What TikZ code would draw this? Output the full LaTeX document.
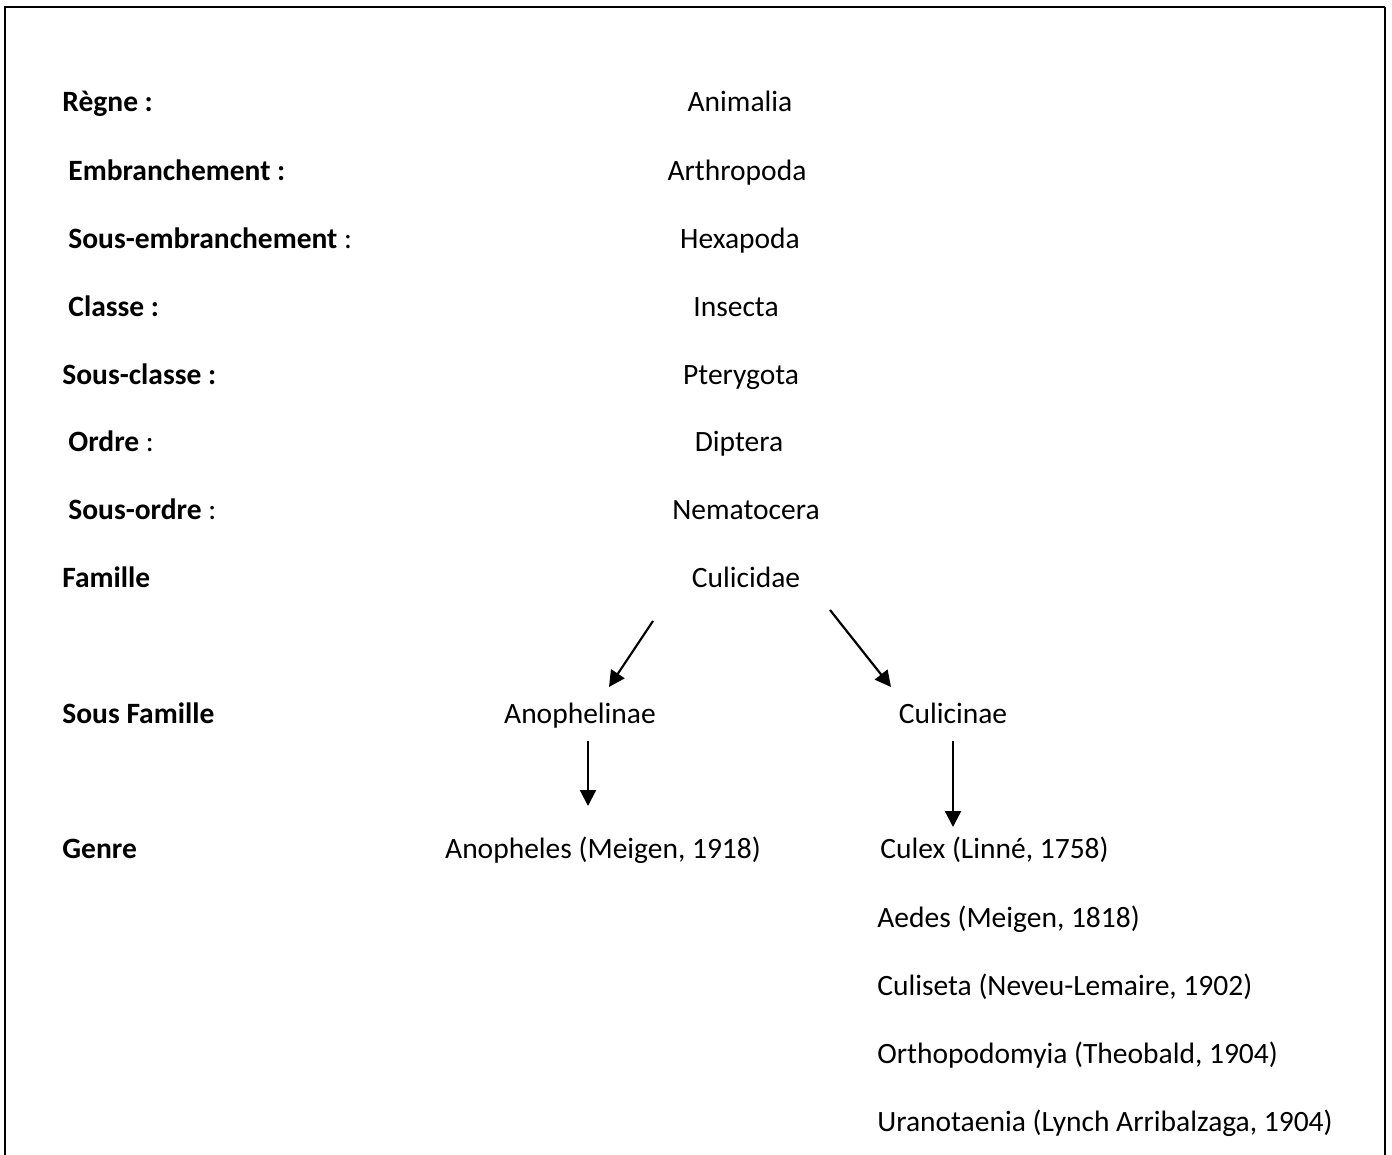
\documentclass[tikz,border=0pt]{standalone}
\usepackage{fontspec}
\setmainfont{Carlito}
\usetikzlibrary{arrows.meta}
\tikzset{
  every node/.style={inner sep=0pt, text height=0.8em, text depth=0.1em},
  rang/.style={anchor=west, font=\bfseries},
  taxon/.style={},
  genre/.style={anchor=west},
  fleche/.style={line width=1.1pt, -{Triangle[length=8pt,width=8pt]}}
}
\begin{document}
\begin{tikzpicture}[x=0.5pt,y=-0.5pt]
\useasboundingbox (0,0) rectangle (1392,1155);
\fontsize{14.75}{17}\selectfont
% cadre
\draw [line width=1pt] (5,1155) -- (5,7) -- (1385,7);
\draw [line width=1.3pt] (1385,7) -- (1385,1155);
% rangs
\node [rang] (regne) at (62,101) {Règne :};
\node [rang] (embr) at (68,170) {Embranchement :};
\node [rang] (sembr) at (68,238) {Sous-embranchement \mdseries:};
\node [rang] (classe) at (68,306) {Classe :};
\node [rang] (sclasse) at (62,374) {Sous-classe :};
\node [rang] (ordre) at (68,441) {Ordre \mdseries:};
\node [rang] (sordre) at (68,509) {Sous-ordre \mdseries:};
\node [rang] (famille) at (62,577) {Famille};
\node [rang] (sfamille) at (62,713) {Sous Famille};
\node [rang] (genre) at (62,848) {Genre};
% taxons
\node [taxon] (animalia) at (740,101) {Animalia};
\node [taxon] (arthropoda) at (737,170) {Arthropoda};
\node [taxon] (hexapoda) at (740,238) {Hexapoda};
\node [taxon] (insecta) at (736,306) {Insecta};
\node [taxon] (pterygota) at (741,374) {Pterygota};
\node [taxon] (diptera) at (739,441) {Diptera};
\node [taxon] (nematocera) at (746,509) {Nematocera};
\node [taxon] (culicidae) at (746,577) {Culicidae};
\node [taxon] (anophelinae) at (580,713) {Anophelinae};
\node [taxon] (culicinae) at (953,713) {Culicinae};
\node [taxon] (anopheles) at (603,848) {Anopheles (Meigen, 1918)};
\node [genre] (culex) at (880,848) {Culex (Linné, 1758)};
\node [genre] (aedes) at (877,917) {Aedes (Meigen, 1818)};
\node [genre] (culiseta) at (877,985) {Culiseta (Neveu-Lemaire, 1902)};
\node [genre] (ortho) at (877,1053) {Orthopodomyia (Theobald, 1904)};
\node [genre] (urano) at (877,1121) {Uranotaenia (Lynch Arribalzaga, 1904)};
% fleches
\coordinate (fam-a) at (653,621);
\coordinate (sfa-t) at (609,687);
\coordinate (fam-c) at (830,610);
\coordinate (sfc-t) at (891,687);
\coordinate (ano-g) at (588,741);
\coordinate (ano-b) at (588,806);
\coordinate (cul-g) at (953,741);
\coordinate (cul-b) at (953,827);
\draw [fleche] (fam-a) -- (sfa-t);
\draw [fleche] (fam-c) -- (sfc-t);
\draw [fleche] (ano-g) -- (ano-b);
\draw [fleche] (cul-g) -- (cul-b);
\end{tikzpicture}
\end{document}
